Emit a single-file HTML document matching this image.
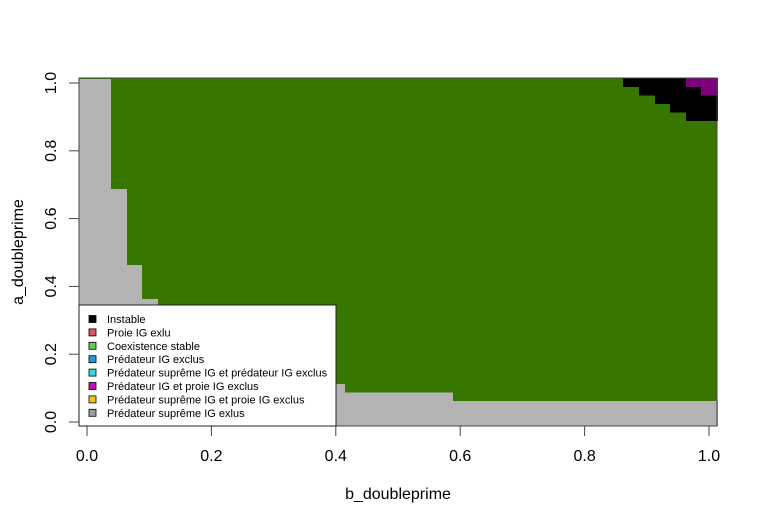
<!DOCTYPE html>
<html><head><meta charset="utf-8"><style>
html,body{margin:0;padding:0;background:#fff;}
svg{display:block;font-family:"Liberation Sans",Arial,sans-serif;}
</style></head><body>
<svg id="chart" width="757" height="524" viewBox="0 0 757 524" xmlns="http://www.w3.org/2000/svg">
<g id="cells" shape-rendering="crispEdges"></g>
<rect x="79" y="78" width="638" height="348" fill="none" stroke="#444" stroke-width="1"/>
<g id="axes"></g>
<text x="398" y="499" font-size="16" text-anchor="middle">b_doubleprime</text>
<text transform="translate(23,252) rotate(-90)" font-size="16" text-anchor="middle">a_doubleprime</text>
<g id="legend"></g>
</svg>
<script>
// b grid: 0..1 step 0.025 (41 columns); a grid: 0..1 step 0.025 (41 rows)
const bValues = Array.from({length:41},(_,i)=>i/40);
// number of gray ("Prédateur suprême IG exlus") cells from bottom per column
const grayCells = [41,41,28,19,15,13,11,10,9,8,8,7,7,6,6,6,5,4,4,4,4,4,4,4,3,3,3,3,3,3,3,3,3,3,3,3,3,3,3,3,3];
// number of black ("Instable") cells from top per column (includes purple)
const blackCells = [0,0,0,0,0,0,0,0,0,0,0,0,0,0,0,0,0,0,0,0,0,0,0,0,0,0,0,0,0,0,0,0,0,0,0,1,2,3,4,5,5];
// number of purple cells from top per column
const purpleCells = [0,0,0,0,0,0,0,0,0,0,0,0,0,0,0,0,0,0,0,0,0,0,0,0,0,0,0,0,0,0,0,0,0,0,0,0,0,0,0,1,2];
const xTicks = [0,0.2,0.4,0.6,0.8,1.0];
const xTickLabels = ["0.0","0.2","0.4","0.6","0.8","1.0"];
const yTicks = [0,0.2,0.4,0.6,0.8,1.0];
const yTickLabels = ["0.0","0.2","0.4","0.6","0.8","1.0"];
const legendLabels = ["Instable","Proie IG exlu","Coexistence stable","Prédateur IG exclus","Prédateur suprême IG et prédateur IG exclus","Prédateur IG et proie IG exclus","Prédateur suprême IG et proie IG exclus","Prédateur suprême IG exlus"];
const legendColors = ["#000000","#DF536B","#61D04F","#2297E6","#28E2E5","#CD0BBC","#F5C710","#9E9E9E"];

const NS="http://www.w3.org/2000/svg";
const sx = v => 87 + v*622;
const sy = v => 422 - v*339;
const step = 0.025;
const mk=(tag,attrs,parent)=>{const e=document.createElementNS(NS,tag);for(const k in attrs)e.setAttribute(k,attrs[k]);parent.appendChild(e);return e;};
const cells=document.getElementById('cells');
let r=mk('rect',{x:79,y:78,width:638,height:348,fill:'#377700'},cells);


bValues.forEach((b,i)=>{
  const x0=Math.round(sx(b-step/2)), x1=Math.round(sx(b+step/2));
  const g=grayCells[i];
  if(g>0){
    const top=(g-1)*step+step/2;
    r=mk('rect',{x:x0,y:sy(top),width:x1-x0+1,height:426-sy(top),fill:'#b3b3b3'},cells);
    
    
  }
  const bk=blackCells[i];
  if(bk>0){
    const low=1-(bk-1)*step-step/2;
    r=mk('rect',{x:x0,y:78,width:x1-x0+1,height:sy(low)-78,fill:'#000000'},cells);
    
    
  }
  const p=purpleCells[i];
  if(p>0){
    const low=1-(p-1)*step-step/2;
    r=mk('rect',{x:x0,y:78,width:x1-x0+1,height:sy(low)-78,fill:'#7b007b'},cells);
    
    
  }
});
const axes=document.getElementById('axes');
let l=mk('line',{x1:sx(xTicks[0]),x2:sx(xTicks[xTicks.length-1]),y1:426,y2:426,stroke:'#444'},axes);

xTicks.forEach((t,i)=>{
  let e=mk('line',{x1:sx(t),x2:sx(t),y1:426,y2:436,stroke:'#444'},axes);
  
  e=mk('text',{x:sx(t),y:461,'font-size':16,'text-anchor':'middle'},axes);e.textContent=xTickLabels[i];
  
});
l=mk('line',{x1:79,x2:79,y1:sy(yTicks[0]),y2:sy(yTicks[yTicks.length-1]),stroke:'#444'},axes);

yTicks.forEach((t,i)=>{
  let e=mk('line',{x1:69,x2:79,y1:sy(t),y2:sy(t),stroke:'#444'},axes);
  
  e=mk('text',{transform:`translate(56,${sy(t)}) rotate(-90)`,'font-size':16,'text-anchor':'middle'},axes);e.textContent=yTickLabels[i];
  
});
const lg=document.getElementById('legend');
let bx=mk('rect',{x:79,y:305,width:257,height:121,fill:'#fff',stroke:'#222'},lg);

legendLabels.forEach((lab,i)=>{
  const y=319+i*13.4;
  let s=mk('rect',{x:89,y:y-3.5,width:7,height:7,fill:legendColors[i],stroke:'#000','stroke-width':0.8},lg);
  
  let t=mk('text',{x:107,y:y+4,'font-size':11},lg);t.textContent=lab;
  
});
</script>
</body></html>
